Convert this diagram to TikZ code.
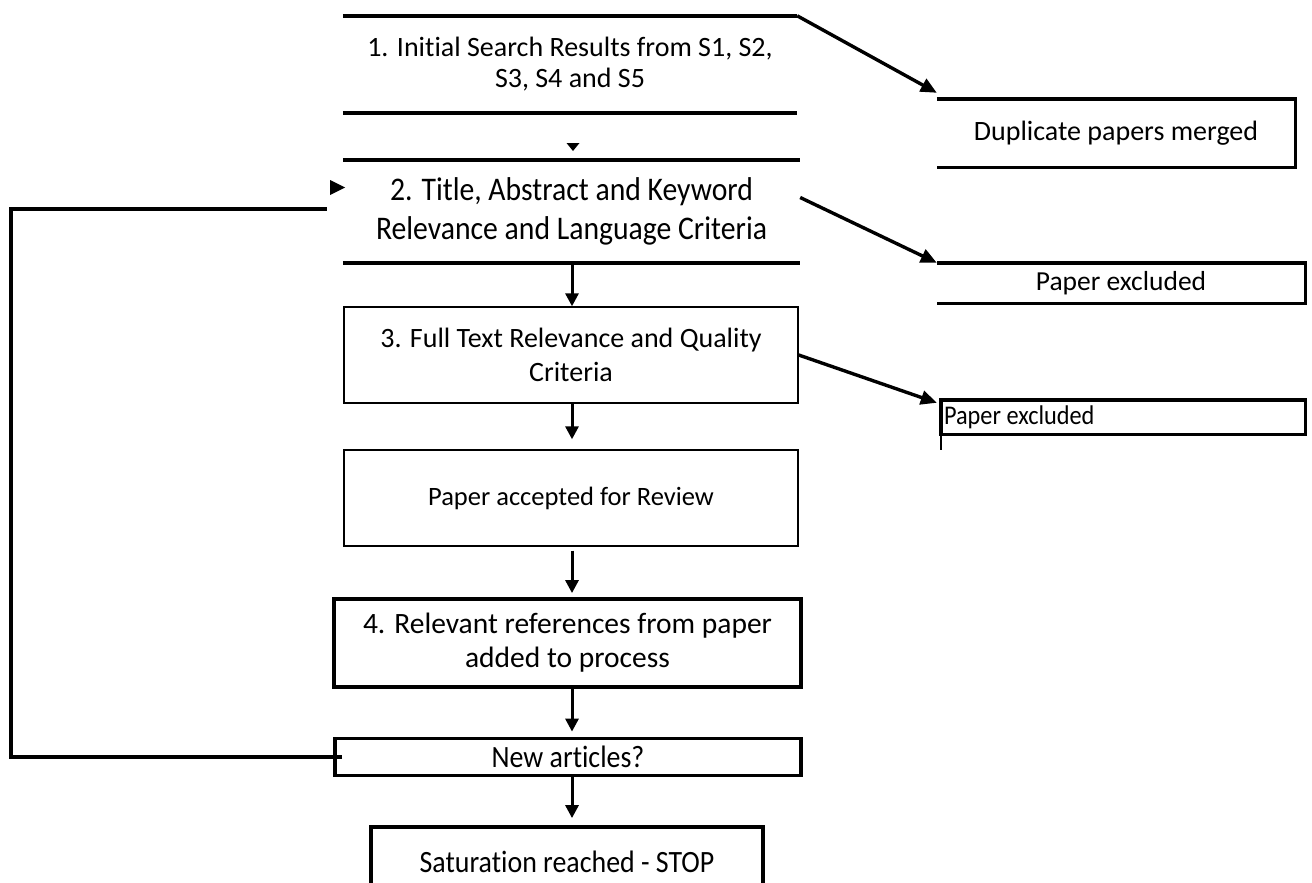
\documentclass[tikz,border=0pt]{standalone}
\usepackage{fontspec}
\setmainfont{Carlito}[Ligatures=NoCommon]
\newfontfamily\narrowfont{Carlito}[FakeStretch=0.9,Ligatures=NoCommon]
\usetikzlibrary{arrows.meta,calc}

\begin{document}
\begin{tikzpicture}[x=1pt,y=-1pt,
  txt/.style={inner sep=0pt, align=center, font=\fontsize{28}{34}\selectfont},
  narrow/.style={font=\narrowfont\fontsize{31}{36}\selectfont},
  thinbox/.style={txt, draw, line width=1.4pt},
  thickbox/.style={txt, draw, line width=3.8pt},
  rule/.style={line width=3.8pt},
  arr/.style={line width=3pt, -{Triangle[length=13pt,width=13pt]}},
  diag/.style={line width=3.4pt, -{Triangle[length=16pt,width=14pt]}},
  looppath/.style={line width=3.6pt}
]
\useasboundingbox (0,0) rectangle (1312,883);

% main column
\node[txt, font=\fontsize{28}{31}\selectfont, minimum width=454pt, minimum height=97pt] (s1) at (570,64.5)
  {1. Initial Search Results from S1, S2,\\S3, S4 and S5};
\node[txt, font=\narrowfont\fontsize{33}{39}\selectfont, minimum width=457pt, minimum height=103pt] (s2) at (571.5,211.5)
  {2. Title, Abstract and Keyword\\Relevance and Language Criteria};
\node[thinbox, minimum width=454pt, minimum height=96pt] (s3) at (571,355)
  {3. Full Text Relevance and Quality\\Criteria};
\node[thinbox, font=\fontsize{26.5}{31}\selectfont, minimum width=454pt, minimum height=96pt] (acc) at (571,498)
  {Paper accepted for Review};
\node[thickbox, font=\fontsize{29.5}{34}\selectfont, minimum width=467pt, minimum height=88pt] (s4) at (567.5,643)
  {4. Relevant references from paper\\added to process};
\node[thickbox, narrow, minimum width=466pt, minimum height=37pt] (new) at (568,757)
  {New articles?};
\node[thickbox, narrow, minimum width=392pt, minimum height=70pt] (sat) at (567,862)
  {Saturation reached - STOP};

% side boxes
\node[txt, minimum width=358pt, minimum height=68pt] (dup) at (1116,133)
  {Duplicate papers merged};
\node[txt, font=\fontsize{27.5}{33}\selectfont, minimum width=368pt, minimum height=40pt] (pe1) at (1121,283)
  {Paper excluded};
\node[txt, minimum width=364pt, minimum height=34pt] (pe2) at (1123,417) {};
\node[anchor=west, inner sep=0pt, font=\narrowfont\fontsize{27}{30}\selectfont] (pe2t) at ($(pe2.west)+(3,0)$) {Paper excluded};

% open borders
\draw[rule] (s1.north west) -- (s1.north east);
\draw[rule] (s1.south west) -- (s1.south east);
\draw[rule] (s2.north west) -- (s2.north east);
\draw[rule] (s2.south west) -- (s2.south east);
\draw[line width=3.4pt] (dup.north west) -- (dup.north east) -- (dup.south east) -- (dup.south west);
\draw[line width=3.4pt] (pe1.north west) -- (pe1.north east) -- (pe1.south east) -- (pe1.south west);
\draw[line width=3.4pt] (pe2.north west) rectangle (pe2.south east);
\draw[line width=2.4pt] (pe2.south west) -- ++(0,16);

% vertical connectors
\coordinate (ax) at (572,0);
\draw[arr] (s2.south -| ax) -- (s3.north -| ax);
\draw[arr, shorten >=10pt] (s3.south -| ax) -- (acc.north -| ax);
\draw[arr, shorten <=4pt, shorten >=4pt] (acc.south -| ax) -- (s4.north -| ax);
\draw[arr, shorten >=5pt] (s4.south -| ax) -- (new.north -| ax);
\draw[arr, shorten >=7pt] (new.south -| ax) -- (sat.north -| ax);

% head of the link from step 1 to step 2
\fill (566.5,143) -- (579.5,143) -- (573,151) -- cycle;

% exclusions
\draw[diag] (s1.north east) -- ($(dup.north west)+(0,-6)$);
\draw[diag] ($(s2.east)+(0,-14)$) -- (pe1.north west);
\draw[diag] (s3.east) -- ($(pe2.north west)+(-4,3)$);

% feedback loop
\coordinate (lc) at (11,209);
\coordinate (le) at (327,209);
\draw[looppath] ($(new.west)+(9,0)$) -| (lc) -- (le);
\fill (330,180) -- (345,187.5) -- (330,195) -- cycle;
\end{tikzpicture}
\end{document}
